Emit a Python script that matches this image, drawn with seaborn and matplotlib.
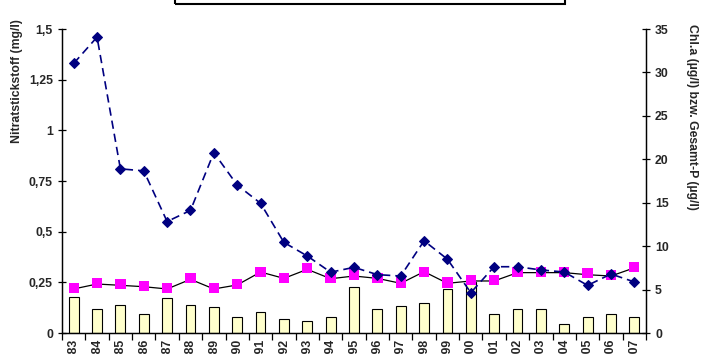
import matplotlib
matplotlib.use("Agg")
import matplotlib.pyplot as plt
import matplotlib.patches as mpatches
import matplotlib.ticker as mticker
import numpy as np
import pandas as pd
import seaborn as sns

years = [str(y) for y in range(1983, 2008)]
nitrat = [1.33, 1.46, 0.81, 0.80, 0.55, 0.605, 0.89, 0.73, 0.64, 0.447, 0.38, 0.30, 0.324,
          0.288, 0.281, 0.455, 0.364, 0.199, 0.327, 0.327, 0.311, 0.301, 0.235, 0.291, 0.252]
chla = [4.18, 2.72, 3.26, 2.19, 4.07, 3.26, 2.99, 1.81, 2.46, 1.65, 1.38, 1.81, 5.26,
        2.72, 3.11, 3.42, 5.03, 5.9, 2.19, 2.72, 2.72, 1.0, 1.81, 2.19, 1.81]
gesamt_p = [5.15, 5.79, 5.64, 5.41, 5.15, 6.33, 5.15, 5.64, 6.99, 6.33, 7.52, 6.33, 6.73,
            6.33, 5.83, 7.02, 5.83, 6.10, 6.10, 7.02, 7.02, 7.02, 6.87, 6.64, 7.56]
gesamt_p_line = [5.07, 5.64, 5.49, 5.33, 5.07, 6.18, 5.07, 5.53, 7.02, 6.29, 7.33, 6.25, 6.56,
                 6.29, 5.72, 7.06, 5.72, 5.99, 5.99, 6.95, 6.95, 6.95, 6.71, 6.56, 7.5]
left_ticks = [0, 0.25, 0.5, 0.75, 1.0, 1.25, 1.5]
left_ticklabels = ["0", "0,25", "0,5", "0,75", "1", "1,25", "1,5"]
right_ticks = [0, 5, 10, 15, 20, 25, 30, 35]

df = pd.DataFrame({"year": years, "idx": np.arange(len(years)), "nitrat": nitrat,
                   "chla": chla, "p": gesamt_p, "pline": gesamt_p_line})

sns.set_style("white")
plt.rcParams["font.family"] = ["Liberation Sans", "DejaVu Sans"]
plt.rcParams["font.weight"] = "bold"

FS = 8.8

fig = plt.figure(figsize=(7.07, 3.54), dpi=100)
ax = fig.add_axes([62/707, 21/354, 584/707, 304/354])
ax2 = ax.twinx()
ax.set_zorder(ax2.get_zorder() + 1)
ax.patch.set_visible(False)

# right axis: bars, pink squares, black line
sns.barplot(data=df, x="idx", y="chla", ax=ax2, color="#FFFFCC", saturation=1,
            edgecolor="black", linewidth=0.8, width=0.42, native_scale=True, zorder=2)
sns.lineplot(data=df, x="idx", y="pline", ax=ax2, color="black", linewidth=0.9, zorder=3)
sns.scatterplot(data=df, x="idx", y="p", ax=ax2, marker="s", color="#FF00FF", s=55,
                edgecolor="none", zorder=4)

# left axis: nitrate
sns.lineplot(data=df, x="idx", y="nitrat", ax=ax, color="#000080", linewidth=1.2,
             linestyle=(0, (5, 3)), marker="D", markersize=5, mec="#000080", mfc="#000080")

for a in (ax, ax2):
    a.set_xlim(-0.5, len(years) - 0.5)
ax.set_ylim(0, 1.5)
ax2.set_ylim(0, 35)

ax.set_yticks(left_ticks)
ax.set_yticklabels(left_ticklabels)
ax2.set_yticks(right_ticks)
ax2.set_yticklabels([str(t) for t in right_ticks])

ax.set_xticks(np.arange(len(years)))
ax.set_xticklabels(years, rotation=90, va="top", ha="center")
ax.xaxis.set_minor_locator(mticker.FixedLocator(np.arange(-0.5, len(years), 1.0)))
ax.tick_params(axis="x", which="major", length=0, pad=4, labelsize=FS)
ax.tick_params(axis="x", which="minor", length=5, width=0.9, direction="out", color="black", bottom=True)
ax.tick_params(axis="y", length=6, width=0.9, direction="inout", color="black", labelsize=FS, left=True)
ax2.tick_params(axis="y", length=6, width=0.9, direction="inout", color="black", labelsize=FS, right=True)
ax2.tick_params(axis="x", bottom=False, labelbottom=False)

for a in (ax, ax2):
    for s in ("left", "right", "bottom"):
        a.spines[s].set_visible(True)
        a.spines[s].set_color("black")
        a.spines[s].set_linewidth(0.9)
    a.spines["top"].set_visible(False)
ax.set_xlabel("")
ax.set_ylabel("")
ax2.set_xlabel("")
ax2.set_ylabel("")
ax2.grid(False)
ax.grid(False)

fig.text(17/707, 1 - 81/354, "Nitratstickstoff (mg/l)", rotation=90, ha="center", va="center",
         fontsize=FS, fontweight="bold")
fig.text(692/707, 1 - 117/354, "Chl.a (µg/l) bzw. Gesamt-P (µg/l)", rotation=270, ha="center",
         va="center", fontsize=FS, fontweight="bold")

# clipped legend frame at the top
rect = mpatches.Rectangle((175/707, 1 - 4/354), (565 - 175)/707, 0.2, transform=fig.transFigure,
                          fill=False, edgecolor="black", linewidth=1.5, clip_on=False)
fig.patches.append(rect)

fig.savefig("out.png", dpi=100)
